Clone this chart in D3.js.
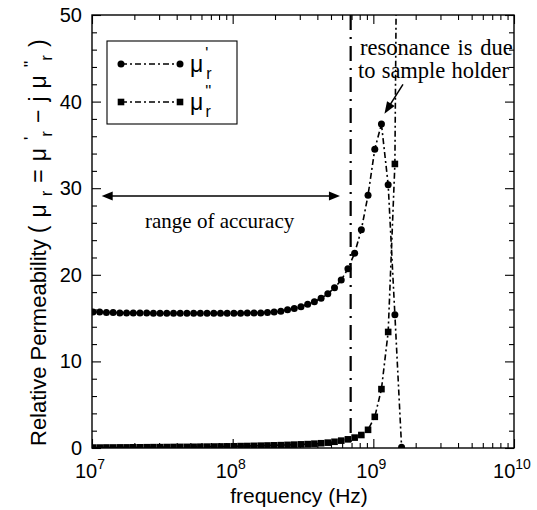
<!DOCTYPE html>
<html><head><meta charset="utf-8">
<script src="https://cdn.jsdelivr.net/npm/d3@7"></script>
<style>body{margin:0;background:#fff}svg{display:block}</style>
</head><body><svg id="c" width="537" height="510"></svg>
<script>
// ---- data ----
const freq = [1.016e7,1.134e7,1.266e7,1.413e7,1.577e7,1.761e7,1.965e7,2.193e7,2.448e7,2.732e7,
  3.048e7,3.402e7,3.797e7,4.238e7,4.730e7,5.279e7,5.892e7,6.576e7,7.339e7,8.191e7,
  9.141e7,1.020e8,1.139e8,1.271e8,1.418e8,1.583e8,1.767e8,1.972e8,2.201e8,2.456e8,
  2.741e8,3.059e8,3.414e8,3.810e8,4.253e8,4.746e8,5.297e8,5.912e8,6.598e8,7.364e8,
  8.218e8,9.171e8,1.024e9,1.142e9,1.275e9,1.423e9,1.588e9];
const muReal = [15.7,15.7,15.65,15.65,15.6,15.6,15.6,15.6,15.6,15.55,
  15.55,15.55,15.55,15.55,15.55,15.55,15.55,15.55,15.55,15.55,
  15.55,15.55,15.55,15.6,15.6,15.6,15.65,15.7,15.8,15.95,
  16.1,16.3,16.6,16.9,17.3,17.8,18.5,19.4,20.7,22.5,
  25.2,29.2,34.5,37.4,30.4,15.4,0.1];
const muImag = [0.05,0.05,0.06,0.06,0.07,0.07,0.08,0.08,0.09,0.1,
  0.1,0.11,0.12,0.13,0.13,0.14,0.15,0.16,0.17,0.18,
  0.19,0.2,0.22,0.23,0.25,0.27,0.29,0.31,0.33,0.36,
  0.39,0.42,0.45,0.5,0.55,0.62,0.72,0.85,1.0,1.2,
  1.5,2.1,3.6,6.8,13.4,32.8,130];
const xTickExps = [7,8,9,10];
const yTicks = [0,10,20,30,40,50];
const accuracyLimit = 6.9e8;           // vertical dash-dot line
const rangeArrow = [1.172e7, 5.79e8, 29.1]; // from, to, level
const resonanceArrow = [[1.625e9, 42.0],[1.2e9, 38.6]]; // tail, tip
const legendLabels = [["'", "r"], ["''", "r"]];

// ---- layout ----
const svg = d3.select("#c");
const L=92, R=514, T=15, B=448;
const x = d3.scaleLog().domain([1e7,1e10]).range([L,R]);
const y = d3.scaleLinear().domain([0,50]).range([B,T]);
const sans = "'Liberation Sans', Arial, Helvetica, sans-serif";
const serif = "'Liberation Serif', 'Times New Roman', serif";

svg.append("defs").append("clipPath").attr("id","clip")
  .append("rect").attr("x",L).attr("y",T).attr("width",R-L).attr("height",B-T);

// ticks
const minorX = [];
for (let e=7;e<10;e++) for (let m=2;m<10;m++) minorX.push(m*Math.pow(10,e));
const majorX = xTickExps.map(e=>Math.pow(10,e));
const minorY = d3.range(0,51,2).filter(v=>v%10!==0);
function tickAxis(axisFn, scale, vals, size, tr){
  const g = svg.append("g").attr("transform",tr)
    .call(axisFn(scale).tickValues(vals).tickSize(size).tickFormat(""));
  g.select(".domain").remove();
  g.selectAll("line").attr("stroke","#000").attr("stroke-width",1.1);
}
tickAxis(d3.axisBottom, x, majorX, -9, `translate(0,${B})`);
tickAxis(d3.axisBottom, x, minorX, -5, `translate(0,${B})`);
tickAxis(d3.axisTop, x, majorX, -9, `translate(0,${T})`);
tickAxis(d3.axisTop, x, minorX, -5, `translate(0,${T})`);
tickAxis(d3.axisLeft, y, yTicks, -9, `translate(${L},0)`);
tickAxis(d3.axisLeft, y, minorY, -5, `translate(${L},0)`);
tickAxis(d3.axisRight, y, yTicks, -9, `translate(${R},0)`);
tickAxis(d3.axisRight, y, minorY, -5, `translate(${R},0)`);

// tick labels
xTickExps.forEach(e=>{
  const t = svg.append("text").attr("x",x(Math.pow(10,e))-2).attr("y",478)
    .attr("text-anchor","middle").attr("font-family",sans).attr("font-size",20);
  t.append("tspan").text("10");
  t.append("tspan").attr("dy",-9).attr("font-size",14).text(e);
});
yTicks.forEach(v=>{
  svg.append("text").attr("x",82).attr("y",y(v)+7).attr("text-anchor","end")
    .attr("font-family",sans).attr("font-size",20).text(v);
});

// axis titles
svg.append("text").attr("x",299).attr("y",503).attr("text-anchor","middle")
  .attr("font-family",sans).attr("font-size",21).text("frequency (Hz)");
const yt = svg.append("text").attr("transform","translate(46,446) rotate(-90)")
  .attr("text-anchor","start").attr("font-family",sans).attr("font-size",22);
yt.append("tspan").text("Relative Permeability ");
const ls = 8, pf = 23;
yt.append("tspan").attr("font-size",pf).attr("letter-spacing",ls).text("(μ");
yt.append("tspan").attr("font-size",17).attr("dy",6).attr("letter-spacing",ls).text("r");
yt.append("tspan").attr("font-size",pf).attr("dy",-6).attr("letter-spacing",ls).text("=μ");
yt.append("tspan").attr("font-size",17).attr("dy",-10).text("'");
yt.append("tspan").attr("font-size",17).attr("dy",16).attr("letter-spacing",ls).text("r");
yt.append("tspan").attr("font-size",pf).attr("dy",-6).attr("letter-spacing",ls).text("−jμ");
yt.append("tspan").attr("font-size",17).attr("dy",-10).text("''");
yt.append("tspan").attr("font-size",17).attr("dy",16).attr("letter-spacing",ls).text("r");
yt.append("tspan").attr("font-size",pf).attr("dy",-6).text(")");

// vertical accuracy line
svg.append("line").attr("x1",x(accuracyLimit)).attr("x2",x(accuracyLimit))
  .attr("y1",T).attr("y2",B).attr("stroke","#000").attr("stroke-width",2.2)
  .attr("stroke-dasharray","15,7,2,7");

// series
const plot = svg.append("g").attr("clip-path","url(#clip)");
const dash = "6,3,2,3";
function series(vals, marker){
  const pts = freq.map((f,i)=>[f,vals[i]]);
  plot.append("path").datum(pts)
    .attr("d",d3.line().x(d=>x(d[0])).y(d=>y(d[1])))
    .attr("fill","none").attr("stroke","#000").attr("stroke-width",1.6)
    .attr("stroke-dasharray",dash);
  if (marker==="circle"){
    plot.selectAll(null).data(pts).enter().append("circle")
      .attr("cx",d=>x(d[0])).attr("cy",d=>y(d[1])).attr("r",3.5).attr("fill","#000");
  } else {
    plot.selectAll(null).data(pts).enter().append("rect")
      .attr("x",d=>x(d[0])-3.3).attr("y",d=>y(d[1])-3.3).attr("width",6.6).attr("height",6.6).attr("fill","#000");
  }
}
series(muImag,"square");
series(muReal,"circle");

// frame
svg.append("rect").attr("x",L).attr("y",T).attr("width",R-L).attr("height",B-T)
  .attr("fill","none").attr("stroke","#000").attr("stroke-width",1.4);

// arrows
function head(tipX, tipY, ang, len, half){
  const bx = tipX - len*Math.cos(ang), by = tipY - len*Math.sin(ang);
  const px = -Math.sin(ang)*half, py = Math.cos(ang)*half;
  svg.append("path").attr("d",`M${tipX},${tipY}L${bx+px},${by+py}L${bx-px},${by-py}Z`).attr("fill","#000");
}
const ay = y(rangeArrow[2]);
svg.append("line").attr("x1",x(rangeArrow[0])+5).attr("x2",x(rangeArrow[1])-5)
  .attr("y1",ay).attr("y2",ay).attr("stroke","#000").attr("stroke-width",1.6);
head(x(rangeArrow[0]), ay, Math.PI, 11, 4.5);
head(x(rangeArrow[1]), ay, 0, 11, 4.5);
svg.append("text").attr("x",145).attr("y",228).attr("font-family",serif).attr("font-size",21)
  .text("range of accuracy");

const tx = x(resonanceArrow[0][0]), ty = y(resonanceArrow[0][1]);
const hx = x(resonanceArrow[1][0]), hy = y(resonanceArrow[1][1]);
const ang = Math.atan2(hy-ty, hx-tx);
svg.append("line").attr("x1",tx).attr("y1",ty).attr("x2",hx-8*Math.cos(ang)).attr("y2",hy-8*Math.sin(ang))
  .attr("stroke","#000").attr("stroke-width",1.5);
head(hx, hy, ang, 12, 4.5);
svg.append("text").attr("x",360).attr("y",55).attr("font-family",serif).attr("font-size",22.5)
  .attr("word-spacing",2).text("resonance is due");
svg.append("text").attr("x",358).attr("y",78).attr("font-family",serif).attr("font-size",22.5)
  .attr("word-spacing",0.5).text("to sample holder");

// legend
svg.append("rect").attr("x",107).attr("y",41).attr("width",130).attr("height",83)
  .attr("fill","#fff").attr("stroke","#000").attr("stroke-width",1.1);
[64,102].forEach((ly,i)=>{
  svg.append("line").attr("x1",121).attr("x2",180).attr("y1",ly).attr("y2",ly)
    .attr("stroke","#000").attr("stroke-width",1.6).attr("stroke-dasharray",dash);
  [121,180].forEach(mx=>{
    if(i===0) svg.append("circle").attr("cx",mx).attr("cy",ly).attr("r",3.5).attr("fill","#000");
    else svg.append("rect").attr("x",mx-3.3).attr("y",ly-3.3).attr("width",6.6).attr("height",6.6).attr("fill","#000");
  });
  const t = svg.append("text").attr("x",190).attr("y",ly+8).attr("font-family",sans).attr("font-size",23);
  t.append("tspan").text("μ");
  t.append("tspan").attr("font-size",16).attr("dy",-13).attr("dx",2).text(legendLabels[i][0]);
  t.append("tspan").attr("font-size",16).attr("dy",20).attr("dx",i===0?-2:-6).text(legendLabels[i][1]);
});
</script></body></html>
